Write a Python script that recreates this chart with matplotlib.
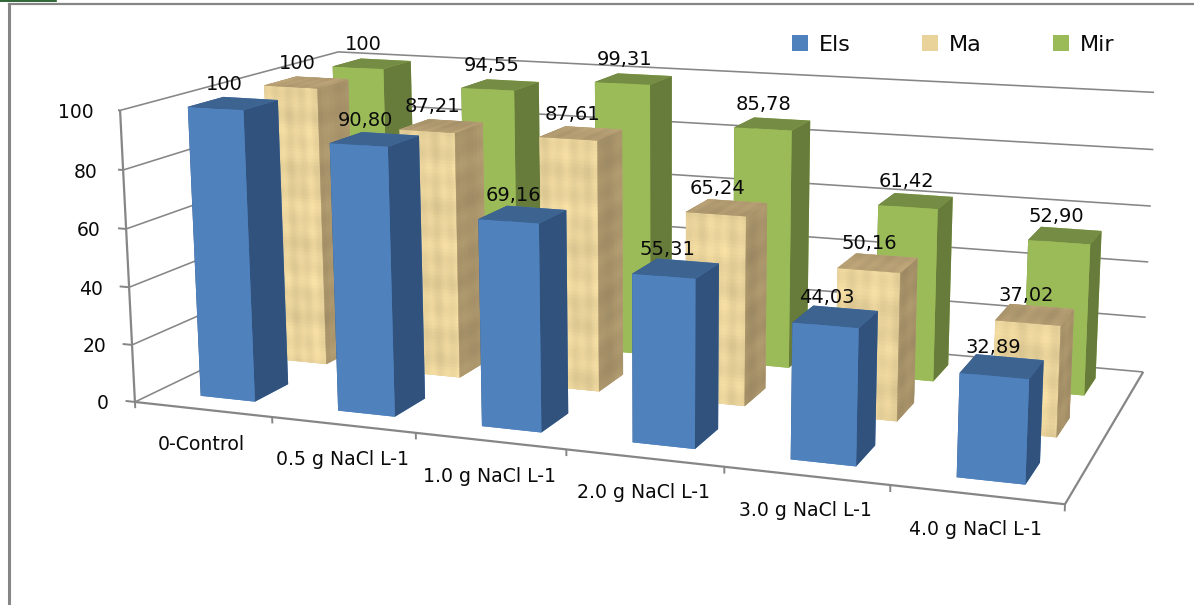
import numpy as np
import matplotlib
matplotlib.use("Agg")
import matplotlib.pyplot as plt
from matplotlib.lines import Line2D
from matplotlib.patches import Patch
from mpl_toolkits.mplot3d import proj3d
from mpl_toolkits.mplot3d.art3d import Poly3DCollection

categories = ["0-Control", "0.5 g NaCl L-1", "1.0 g NaCl L-1",
              "2.0 g NaCl L-1", "3.0 g NaCl L-1", "4.0 g NaCl L-1"]
els = [100, 90.80, 69.16, 55.31, 44.03, 32.89]
ma = [100, 87.21, 87.61, 65.24, 50.16, 37.02]
mir = [100, 94.55, 99.31, 85.78, 61.42, 52.90]
value_text = {
    "Els": ["100", "90,80", "69,16", "55,31", "44,03", "32,89"],
    "Ma": ["100", "87,21", "87,61", "65,24", "50,16", "37,02"],
    "Mir": ["100", "94,55", "99,31", "85,78", "61,42", "52,90"],
}
z_ticks = [0, 20, 40, 60, 80, 100]

GREY = "#868686"
BLUE = ("#4F81BD", "#3D6391", "#31527C")      # front, top, side
SAND = ("#E9D39B", "#B39C72", "#A8936A")
GREEN = ("#9BBB59", "#748C43", "#677B3A")
BAR_W, BAR_D = 0.40, 0.45
BAR_SHIFT = 0.025

W, H = 1194, 605
plt.rcParams["font.family"] = "DejaVu Sans"
fig = plt.figure(figsize=(W / 100, H / 100), dpi=100)
fig.patch.set_facecolor("white")

# Outer frame of the chart area
fig.add_artist(Line2D([8.5 / W, 1], [1 - 4 / H, 1 - 4 / H], color=GREY, lw=1.6))
fig.add_artist(Line2D([8.5 / W, 8.5 / W], [0, 1 - 4 / H], color=GREY, lw=2.2))
fig.add_artist(Line2D([0, 56 / W], [1 - 0.5 / H, 1 - 0.5 / H], color="#0B4A12", lw=1.2))

S = 1036.42
ax = fig.add_axes([117.7 / W, -173.07 / H, S / W, S / H], projection="3d")
ax.computed_zorder = False
ax.set_axis_off()
ax.patch.set_alpha(0)
ax.view_init(elev=12.3824, azim=-69.8711, roll=0.083)
ax.set_proj_type("persp", focal_length=0.414)
ax.set_box_aspect((3.1581, 1.5424, 1))
ax.set_xlim(0, 6)
ax.set_ylim(0, 3)
ax.set_zlim(0, 100)
ax.autoscale(False)


def line3d(xs, ys, zs, lw=1.15, z=1):
    ax.plot(xs, ys, zs, color=GREY, lw=lw, zorder=z, solid_capstyle="butt")


def label_at(x, y, z, text, dx, dy, size, **kw):
    px, py, _ = proj3d.proj_transform(x, y, z, ax.get_proj())
    ax.annotate(text, xy=(px, py), xytext=(dx, dy), textcoords="offset pixels",
                fontsize=size, color="#0A0A0A", zorder=200, annotation_clip=False, **kw)


# Walls and floor
for v in z_ticks:
    line3d([0, 0, 6], [0, 3, 3], [v, v, v])
    line3d([-0.07, 0], [0, 0], [v, v], lw=1.4)
    label_at(0, 0, v, str(v), -26, -2, 13.5, ha="right", va="center")
line3d([0, 0], [0, 0], [0, 100], lw=1.6)
line3d([0, 6, 6], [0, 0, 3], [0, 0, 0], lw=1.6)
for i in range(7):
    line3d([i, i], [0, 0], [0, -2.2], lw=1.4)
for i, name in enumerate(categories):
    label_at(i + 0.5, 0, 0, name, -1, -35, 13.6, ha="center", va="center")


def weave(u, v, phase):
    """Soft plaid of slow bands, as a brightness offset over a face's cell grid."""
    return (0.020 * np.sin(0.83 * v + phase) + 0.018 * np.sin(0.31 * v + 2 * phase)
            + 0.022 * np.sin(0.97 * u + 1.3 * phase) + 0.016 * np.sin(0.37 * u - phase)
            + 0.008 * np.sin(0.53 * u + 0.41 * v))


def textured_face(corner, du, dv, base, phase, zorder, nu, nv):
    """Cover a flat face with small cells that follow the weave pattern."""
    corner, du, dv = map(np.asarray, (corner, du, dv))
    rgb = np.array(matplotlib.colors.to_rgb(base))
    polys, cols = [], []
    for a in range(nu):
        for b in range(nv):
            p0 = corner + du * a / nu + dv * b / nv
            p1 = p0 + du / nu
            p2 = p1 + dv / nv
            p3 = p0 + dv / nv
            polys.append([p0, p1, p2, p3])
            cols.append(np.clip(rgb * (1 + weave(a, b, phase)), 0, 1))
    coll = Poly3DCollection(polys, facecolors=cols, edgecolors=cols, linewidths=0.3,
                            zorder=zorder)
    ax.add_collection3d(coll)


# Rows are painted back to front, each from left to right
rows = [("Mir", mir, GREEN, 2), ("Ma", ma, SAND, 1), ("Els", els, BLUE, 0)]
for name, values, (front, top, side), row in rows:
    for i, v in enumerate(values):
        x0 = i + (1 - BAR_W) / 2 + BAR_SHIFT
        y0 = row + (1 - BAR_D) / 2
        order = (2 - row) * 20 + 10 + i
        face_colors = [front, top, front, front, side, side]
        ax.bar3d(x0, y0, 0, BAR_W, BAR_D, v, color=face_colors, shade=False,
                 edgecolor="none", zorder=order)
        if name == "Ma":
            nz = max(int(v / 1.2), 4)
            textured_face([x0, y0, 0], [BAR_W, 0, 0], [0, 0, v], front, i * 1.1,
                          order + 0.1, 26, nz)
            textured_face([x0 + BAR_W, y0, 0], [0, BAR_D, 0], [0, 0, v], side, i * 0.7,
                          order + 0.2, 8, nz)
            textured_face([x0, y0, v], [BAR_W, 0, 0], [0, BAR_D, 0], top, i * 1.7,
                          order + 0.3, 26, 6)
        label_at(x0 + BAR_W / 2, y0 + BAR_D / 2, v, value_text[name][i], -9, 19, 14,
                 ha="center", va="center")

handles = [Patch(facecolor=BLUE[0], label="Els"),
           Patch(facecolor=SAND[0], label="Ma"),
           Patch(facecolor=GREEN[0], label="Mir")]
fig.legend(handles=handles, loc="center left", bbox_to_anchor=(772 / W, 1 - 45 / H), ncol=3,
           frameon=False, fontsize=16, handlelength=0.72, handleheight=0.72,
           handletextpad=0.5, columnspacing=3.2, labelcolor="#0A0A0A")

fig.savefig("out.png", dpi=100)
